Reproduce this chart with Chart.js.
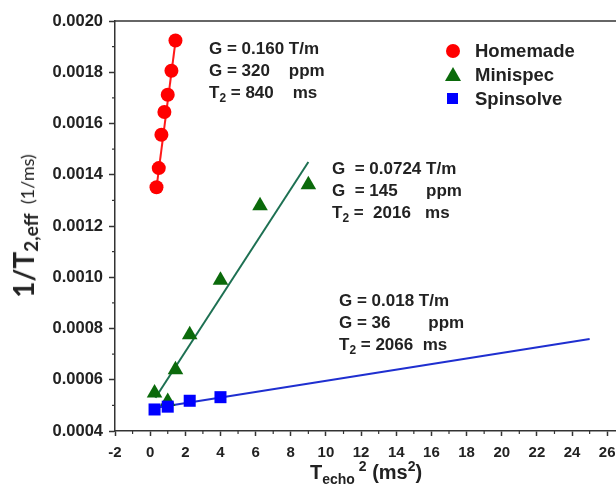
<!DOCTYPE html>
<html>
<head>
<meta charset="utf-8">
<script src="https://cdn.jsdelivr.net/npm/chart.js@4"></script>
<style>
  body { margin: 0; background: #fff; }
  #wrap { position: relative; width: 616px; height: 497px; overflow: hidden; }
  .lbl { position: absolute; font-family: "Liberation Sans", Arial, sans-serif; font-weight: bold; color: #222; white-space: nowrap; line-height: 1; }
  .note { font-size: 17px; }
  .note div { height: 22px; white-space: pre; }
  .legend { font-size: 18.5px; }
  .legend div { height: 24px; display: flex; align-items: center; }
  .mk { display: inline-block; width: 29px; position: relative; height: 14px; }
  .mk i { position: absolute; left: 0; top: 0; }
  .c { width: 14px; height: 14px; border-radius: 50%; background: #ff0000; }
  .t { width: 0; height: 0; border-left: 8px solid transparent; border-right: 8px solid transparent; border-bottom: 14px solid #0b6a0b; left: -1px !important; top: -1px !important; }
  .s { width: 11px; height: 11px; background: #0000ff; left: 1px !important; top: 1px !important; }
  sub, sup { font-size: 70%; line-height: 0; }
</style>
</head>
<body>
<div id="wrap">
  <canvas id="chart" width="625" height="497"></canvas>

  <div class="lbl note" style="left:209px; top:40px;">
    <div>G = 0.160 T/m</div>
    <div>G = 320    ppm</div>
    <div>T<sub>2</sub> = 840    ms</div>
  </div>
  <div class="lbl note" style="left:332px; top:160px;">
    <div>G  = 0.0724 T/m</div>
    <div>G  = 145      ppm</div>
    <div>T<sub>2</sub> =  2016   ms</div>
  </div>
  <div class="lbl note" style="left:339px; top:292px;">
    <div>G = 0.018 T/m</div>
    <div>G = 36        ppm</div>
    <div>T<sub>2</sub> = 2066  ms</div>
  </div>

  <div class="lbl legend" style="left:446px; top:39px;">
    <div><span class="mk"><i class="c"></i></span>Homemade</div>
    <div><span class="mk"><i class="t"></i></span>Minispec</div>
    <div><span class="mk"><i class="s"></i></span>Spinsolve</div>
  </div>

  <div class="lbl" style="left:310px; top:462px; font-size:20px;">T<sub style="font-size:14px;">echo</sub><sup style="font-size:14px;">&nbsp;2</sup> (ms<sup style="font-size:14px;">2</sup>)</div>

  <div class="lbl" style="left:23px; top:226px; transform: translate(-50%,-50%) rotate(-90deg); font-family: Lato, 'Open Sans', sans-serif;"><span style="font-size:28px;">1/T</span><sub style="font-size:19px;">2,eff</sub><span style="font-size:18px; font-weight:normal;">&nbsp;&nbsp;(1/ms)</span></div>
</div>

<script>
const homemadeX = [0.36, 0.49, 0.64, 0.81, 1.0, 1.21, 1.44];
const homemadeY = [0.001351, 0.001426, 0.001556, 0.001645, 0.001712, 0.001806, 0.001924];
const minispecX = [0.25, 1.0, 1.44, 2.25, 4.0, 6.25, 9.0];
const minispecY = [0.000548, 0.000515, 0.000639, 0.000776, 0.000988, 0.001279, 0.001361];
const spinsolveX = [0.25, 1.0, 2.25, 4.0];
const spinsolveY = [0.000484, 0.000495, 0.000518, 0.000532];

// fitted lines, end points
const homemadeFitX = [0.36, 1.44];
const homemadeFitY = [0.00135, 0.00192];
const minispecFitX = [0.3, 9.0];
const minispecFitY = [0.00053, 0.00145];
const spinsolveFitX = [0.25, 25.0];
const spinsolveFitY = [0.00049, 0.000759];

const xTicks = [-2, 0, 2, 4, 6, 8, 10, 12, 14, 16, 18, 20, 22, 24, 26];
const yTicks = [0.0004, 0.0006, 0.0008, 0.0010, 0.0012, 0.0014, 0.0016, 0.0018, 0.0020];

const pts = (xs, ys) => xs.map((x, i) => ({ x: x, y: ys[i] }));
const AXIS = '#333';
const FONT = '"Liberation Sans", Arial, sans-serif';

// minor ticks + top frame line
const framePlugin = {
  id: 'frame',
  afterDraw(chart) {
    const ctx = chart.ctx, a = chart.chartArea;
    const xs = chart.scales.x, ys = chart.scales.y;
    ctx.save();
    ctx.strokeStyle = AXIS;
    ctx.lineWidth = 1.5;
    ctx.beginPath();
    ctx.moveTo(a.left, a.top);
    ctx.lineTo(chart.width, a.top);
    ctx.stroke();
    ctx.lineWidth = 1.2;
    for (let i = 0; i < xTicks.length; i++) {
      const px = xs.getPixelForValue(xTicks[i] + 1);
      if (px > a.right) continue;
      ctx.beginPath();
      ctx.moveTo(px, a.bottom);
      ctx.lineTo(px, a.bottom + 3);
      ctx.stroke();
    }
    for (let i = 0; i < yTicks.length - 1; i++) {
      const py = ys.getPixelForValue(yTicks[i] + 0.0001);
      ctx.beginPath();
      ctx.moveTo(a.left - 3, py);
      ctx.lineTo(a.left, py);
      ctx.stroke();
    }
    ctx.restore();
  }
};

new Chart(document.getElementById('chart'), {
  type: 'scatter',
  data: {
    datasets: [
      { label: 'Spinsolve', data: pts(spinsolveX, spinsolveY), pointStyle: 'rect', pointRadius: 8.5,
        backgroundColor: '#0000ff', borderWidth: 0, order: 0 },
      { label: 'Minispec', data: pts(minispecX, minispecY), pointStyle: 'triangle', pointRadius: 9,
        backgroundColor: '#0b6a0b', borderWidth: 0, order: 1 },
      { label: 'Homemade', data: pts(homemadeX, homemadeY), pointStyle: 'circle', pointRadius: 7,
        backgroundColor: '#ff0000', borderWidth: 0, order: 2 },
      { data: pts(spinsolveFitX, spinsolveFitY), showLine: true, pointRadius: 0,
        borderColor: '#1f2fd0', borderWidth: 2, order: 3 },
      { data: pts(minispecFitX, minispecFitY), showLine: true, pointRadius: 0,
        borderColor: '#1d7052', borderWidth: 2, order: 4 },
      { data: pts(homemadeFitX, homemadeFitY), showLine: true, pointRadius: 0,
        borderColor: '#ff1a1a', borderWidth: 2, order: 5 }
    ]
  },
  options: {
    responsive: false,
    animation: false,
    layout: { padding: { top: 21, right: 0, left: 0, bottom: 0 } },
    scales: {
      x: {
        type: 'linear', min: -2, max: 26.5,
        afterFit: s => { s.height = 66; },
        afterBuildTicks: s => { s.ticks = xTicks.map(v => ({ value: v })); },
        ticks: { color: '#222', font: { family: FONT, size: 15, weight: 'bold' }, padding: 8, maxRotation: 0, callback: v => String(v) },
        grid: { display: true, drawOnChartArea: false, tickLength: 5, color: AXIS, tickWidth: 1.5 },
        border: { display: true, color: AXIS, width: 1.5 }
      },
      y: {
        type: 'linear', min: 0.0004, max: 0.0020,
        afterFit: s => { s.width = 115; },
        afterBuildTicks: s => { s.ticks = yTicks.map(v => ({ value: v })); },
        ticks: { color: '#222', font: { family: FONT, size: 16.5, weight: 'bold' }, padding: 6, callback: v => v.toFixed(4) },
        grid: { display: true, drawOnChartArea: false, tickLength: 6, color: AXIS, tickWidth: 1.5 },
        border: { display: true, color: AXIS, width: 1.5 }
      }
    },
    plugins: { legend: { display: false }, tooltip: { enabled: false } }
  },
  plugins: [framePlugin]
});
</script>
</body>
</html>
